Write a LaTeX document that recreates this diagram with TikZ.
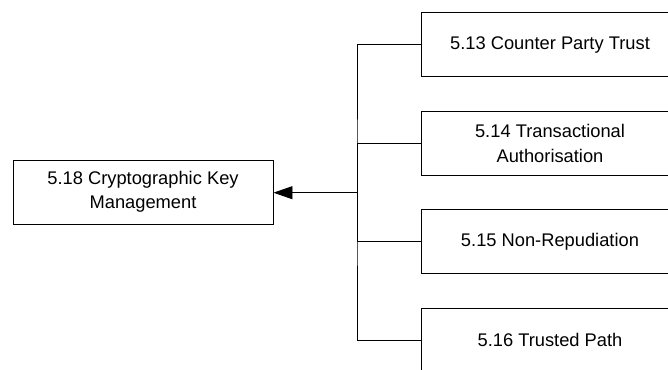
\documentclass[tikz,border=0pt]{standalone}
\usepackage{fontspec}
\setmainfont{Liberation Sans}
\usetikzlibrary{arrows.meta}
\begin{document}
\begin{tikzpicture}[x=1pt,y=-1pt,
  box/.style={draw, line width=0.9pt, minimum width=258pt, minimum height=64pt,
    align=center, inner sep=0pt, font=\fontsize{18.3}{24.5}\selectfont},
  link/.style={line width=0.9pt},
  tip/.style={-{Triangle[length=19pt,width=13pt]}}]
\useasboundingbox (0,0) rectangle (668,369);
\clip (0,0) rectangle (668,369);
% target of the relation
\node[box, minimum width=260pt] (km) at (143,192) {5.18 Cryptographic Key\\Management};
% contributing requirements
\node[box] (cp) at (550,44.6) {5.13 Counter Party Trust};
\node[box] (ta) at (550,143.3) {5.14 Transactional\\Authorisation};
\node[box] (nr) at (550,241.5) {5.15 Non-Repudiation};
\node[box] (tp) at (550,340) {5.16 Trusted Path};
% bus joining the four boxes
\coordinate (j) at (357,192.7);
\draw[link] (cp.west) -| (j) |- (tp.west);
\draw[link] (j) |- (ta.west);
\draw[link] (j) |- (nr.west);
\draw[link, tip] (j) -- (km.east |- j);
\end{tikzpicture}
\end{document}
